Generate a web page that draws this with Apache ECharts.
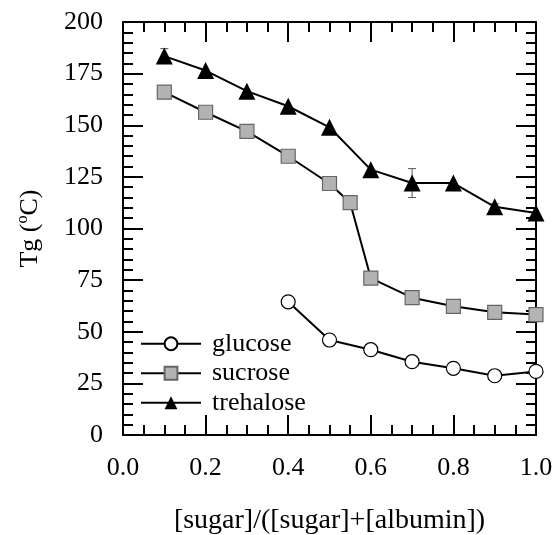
<!DOCTYPE html>
<html>
<head>
<meta charset="utf-8">
<script src="https://cdn.jsdelivr.net/npm/echarts@6/dist/echarts.min.js"></script>
<style>html,body{margin:0;padding:0;background:#fff}#c{width:556px;height:535px}</style>
</head>
<body>
<div id="c"></div>
<script>
var glucoseX = [0.4, 0.5, 0.6, 0.7, 0.8, 0.9, 1.0];
var glucoseY = [64.5, 46, 41.3, 35.5, 32.3, 28.7, 30.8];
var sucroseX = [0.1, 0.2, 0.3, 0.4, 0.5, 0.55, 0.6, 0.7, 0.8, 0.9, 1.0];
var sucroseY = [166, 156.3, 147, 135, 121.8, 112.5, 76, 66.5, 62.3, 59.4, 58.3];
var trehaloseX = [0.1, 0.2, 0.3, 0.4, 0.5, 0.6, 0.7, 0.8, 0.9, 1.0];
var trehaloseY = [183.5, 176.5, 166.5, 159.2, 149, 128.5, 122, 122, 110.5, 107.5];
// error bars: x, center, half-width
var errX = [0.1, 0.7, 0.9, 0.5, 0.6, 0.7];
var errY = [183.5, 122, 110.5, 121.8, 76, 66.5];
var errD = [3.6, 7, 1.5, 3, 1, 1.5];
var xTicks = [0, 0.2, 0.4, 0.6, 0.8, 1.0];
var yTicks = [0, 25, 50, 75, 100, 125, 150, 175, 200];

function pairs(xs, ys) { return xs.map(function (x, i) { return [x, ys[i]]; }); }
var font = 'Liberation Serif';
var chart = echarts.init(document.getElementById('c'), null, {renderer: 'canvas'});
var baseX = {
  type: 'value', min: xTicks[0], max: xTicks[xTicks.length - 1], interval: 0.2,
  axisLine: {show: true, onZero: false, lineStyle: {color: '#000', width: 2}},
  axisTick: {show: true, inside: true, length: 20, lineStyle: {color: '#000', width: 2}},
  minorTick: {show: true, splitNumber: 4, length: 10, lineStyle: {color: '#000', width: 2}},
  splitLine: {show: false}, minorSplitLine: {show: false}
};
var baseY = {
  type: 'value', min: yTicks[0], max: yTicks[yTicks.length - 1], interval: 25,
  axisLine: {show: true, onZero: false, lineStyle: {color: '#000', width: 2}},
  axisTick: {show: true, inside: true, length: 20, lineStyle: {color: '#000', width: 2}},
  minorTick: {show: true, splitNumber: 5, length: 10, lineStyle: {color: '#000', width: 2}},
  splitLine: {show: false}, minorSplitLine: {show: false}
};
var lineStyle = {color: '#000', width: 2};
chart.setOption({
  animation: false,
  backgroundColor: '#fff',
  grid: {left: 123, right: 20, top: 22, bottom: 100, containLabel: false, outerBoundsMode: 'none'},
  legend: {
    orient: 'vertical', left: 140, top: 329, padding: 0, itemWidth: 60, itemHeight: 16, itemGap: 0,
    textStyle: {fontFamily: font, fontSize: 26, color: '#000', padding: [0, 0, 0, 6], lineHeight: 29.5},
    data: ['glucose', 'sucrose', 'trehalose']
  },
  xAxis: [
    Object.assign({}, baseX, {
      position: 'bottom',
      axisLabel: {show: true, margin: 20, fontFamily: font, fontSize: 26, color: '#000',
        formatter: function (v) { return v.toFixed(1); }},
      name: '[sugar]/([sugar]+[albumin])', nameLocation: 'middle', nameGap: 72,
      nameTextStyle: {fontFamily: font, fontSize: 28, color: '#000'}
    }),
    Object.assign({}, baseX, {position: 'top', axisLabel: {show: false}})
  ],
  yAxis: [
    Object.assign({}, baseY, {
      position: 'left',
      axisLabel: {show: true, margin: 20, fontFamily: font, fontSize: 26, color: '#000'},
      name: '{a|Tg (}{s|o}{a|C)}', nameLocation: 'middle', nameGap: 78,
      nameTextStyle: {fontFamily: font, fontSize: 26, color: '#000',
        rich: {a: {fontFamily: font, fontSize: 26, color: '#000', lineHeight: 30},
               s: {fontFamily: font, fontSize: 16, color: '#000', verticalAlign: 'top', lineHeight: 30, padding: [0, 0, 10, 0]}}}
    }),
    Object.assign({}, baseY, {position: 'right', axisLabel: {show: false}})
  ],
  series: [
    {
      type: 'custom', name: 'err', z: 1, silent: true,
      data: errX.map(function (x, i) { return [x, errY[i] - errD[i], errY[i] + errD[i]]; }),
      renderItem: function (params, api) {
        var lo = api.coord([api.value(0), api.value(1)]);
        var hi = api.coord([api.value(0), api.value(2)]);
        var w = 4;
        var st = {stroke: '#555', lineWidth: 1};
        return {type: 'group', children: [
          {type: 'line', shape: {x1: lo[0], y1: lo[1], x2: hi[0], y2: hi[1]}, style: st},
          {type: 'line', shape: {x1: lo[0] - w, y1: lo[1], x2: lo[0] + w, y2: lo[1]}, style: st},
          {type: 'line', shape: {x1: hi[0] - w, y1: hi[1], x2: hi[0] + w, y2: hi[1]}, style: st}
        ]};
      }
    },
    {
      type: 'line', name: 'glucose', data: pairs(glucoseX, glucoseY), z: 3,
      symbol: 'circle', symbolSize: 14, lineStyle: lineStyle,
      itemStyle: {color: '#fff', borderColor: '#000', borderWidth: 1.2}
    },
    {
      type: 'line', name: 'sucrose', data: pairs(sucroseX, sucroseY), z: 3,
      symbol: 'rect', symbolSize: 14, lineStyle: lineStyle,
      itemStyle: {color: '#b3b3b3', borderColor: '#666', borderWidth: 1.2}
    },
    {
      type: 'line', name: 'trehalose', data: pairs(trehaloseX, trehaloseY), z: 3,
      symbol: 'triangle', symbolSize: 17, lineStyle: lineStyle,
      itemStyle: {color: '#000', borderColor: '#000', borderWidth: 0}
    }
  ]
});
</script>
</body>
</html>
